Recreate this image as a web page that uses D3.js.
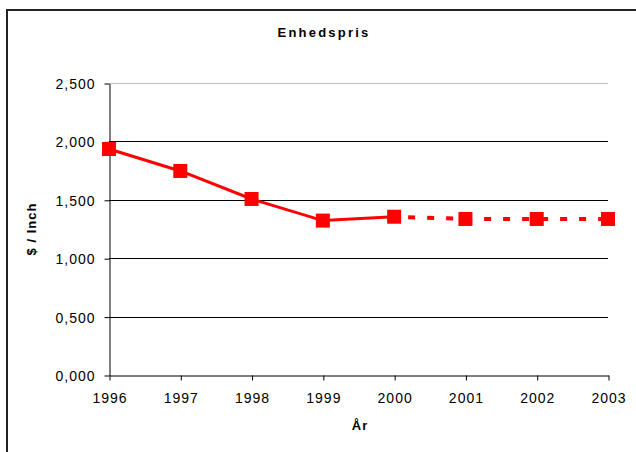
<!DOCTYPE html>
<html>
<head>
<meta charset="utf-8">
<script src="https://cdn.jsdelivr.net/npm/d3@7"></script>
<style>
  body { margin: 0; background: #fff; }
  svg { display: block; font-family: "Liberation Sans", Arial, sans-serif; }
</style>
</head>
<body>
<div id="chart"></div>
<script>
// data
var years = [1996, 1997, 1998, 1999, 2000, 2001, 2002, 2003];
var prices = [1.935, 1.747, 1.507, 1.322, 1.355, 1.336, 1.336, 1.336];
var yTicks = [0, 0.5, 1, 1.5, 2, 2.5];
var actualUntil = 2000; // solid line up to here, dashed after

var width = 636, height = 452;
var plotLeft = 109, plotRight = 608, plotTop = 83, plotBottom = 375;

var svg = d3.select("#chart").append("svg")
    .attr("width", width)
    .attr("height", height);

// outer frame (right/bottom run off the page)
svg.append("rect")
    .attr("x", 7).attr("y", 10)
    .attr("width", 700).attr("height", 500)
    .attr("fill", "none")
    .attr("stroke", "#222")
    .attr("stroke-width", 2);

var x = d3.scaleLinear().domain([1996, 2003]).range([plotLeft, plotRight]);
var y = d3.scaleLinear().domain([0, 2.5]).range([plotBottom, plotTop]);

var loc = d3.formatLocale({ decimal: ",", thousands: ".", grouping: [3], currency: ["", ""] });
var fmt = loc.format(".3f");

// grid lines
svg.append("g").selectAll("line")
    .data(yTicks.filter(function(d) { return d > 0; }))
    .enter().append("line")
    .attr("x1", plotLeft).attr("x2", plotRight)
    .attr("y1", function(d) { return Math.round(y(d)) + 0.5; })
    .attr("y2", function(d) { return Math.round(y(d)) + 0.5; })
    .attr("stroke", function(d) { return d == 2.5 ? "#c0c0c0" : "#000"; })
    .attr("stroke-width", 1);

// y axis
var yAxis = d3.axisLeft(y).tickValues(yTicks).tickFormat(fmt).tickSize(5).tickSizeOuter(0);
var gy = svg.append("g")
    .attr("transform", "translate(" + (plotLeft + 0.5) + ",0.5)")
    .call(yAxis);

// x axis
var xAxis = d3.axisBottom(x).tickValues(years).tickFormat(d3.format("d")).tickSize(5).tickSizeOuter(0);
var gx = svg.append("g")
    .attr("transform", "translate(0.5," + (plotBottom + 0.5) + ")")
    .call(xAxis);

[gy, gx].forEach(function(g) {
    g.select(".domain").attr("stroke", "#000");
    g.selectAll(".tick line").attr("stroke", "#000");
    g.selectAll(".tick text")
        .attr("font-family", "Liberation Sans, Arial, sans-serif")
        .attr("font-size", 14)
        .attr("letter-spacing", 1)
        .attr("fill", "#000");
});
gy.selectAll(".tick text").attr("x", -14).attr("dy", "0.35em");
gx.selectAll(".tick text").attr("y", 27).attr("dy", 0);

// lines
var pts = years.map(function(d, i) { return { year: d, v: prices[i] }; });
var line = d3.line()
    .x(function(d) { return x(d.year); })
    .y(function(d) { return y(d.v); });

svg.append("path")
    .datum(pts.filter(function(d) { return d.year <= actualUntil; }))
    .attr("d", line)
    .attr("fill", "none")
    .attr("stroke", "#ff0000")
    .attr("stroke-width", 3);

svg.append("path")
    .datum(pts.filter(function(d) { return d.year >= actualUntil; }))
    .attr("d", line)
    .attr("fill", "none")
    .attr("stroke", "#ff0000")
    .attr("stroke-width", 4)
    .attr("stroke-dasharray", "7,12")
    .attr("stroke-dashoffset", -14);

// markers
var ms = 14;
svg.append("g").selectAll("rect")
    .data(pts)
    .enter().append("rect")
    .attr("x", function(d) { return x(d.year) - ms / 2; })
    .attr("y", function(d) { return y(d.v) - ms / 2; })
    .attr("width", ms).attr("height", ms)
    .attr("fill", "#ff0000");

// titles
svg.append("text")
    .attr("x", 324).attr("y", 37)
    .attr("text-anchor", "middle")
    .attr("font-size", 13).attr("font-weight", "bold")
    .attr("letter-spacing", 2.2)
    .text("Enhedspris");

svg.append("text")
    .attr("x", 360).attr("y", 430)
    .attr("text-anchor", "middle")
    .attr("font-size", 13).attr("font-weight", "bold")
    .attr("letter-spacing", 1)
    .text("År");

svg.append("text")
    .attr("transform", "translate(36,229) rotate(-90)")
    .attr("text-anchor", "middle")
    .attr("font-size", 13).attr("font-weight", "bold")
    .attr("letter-spacing", 1)
    .text("$ / Inch");
</script>
</body>
</html>
